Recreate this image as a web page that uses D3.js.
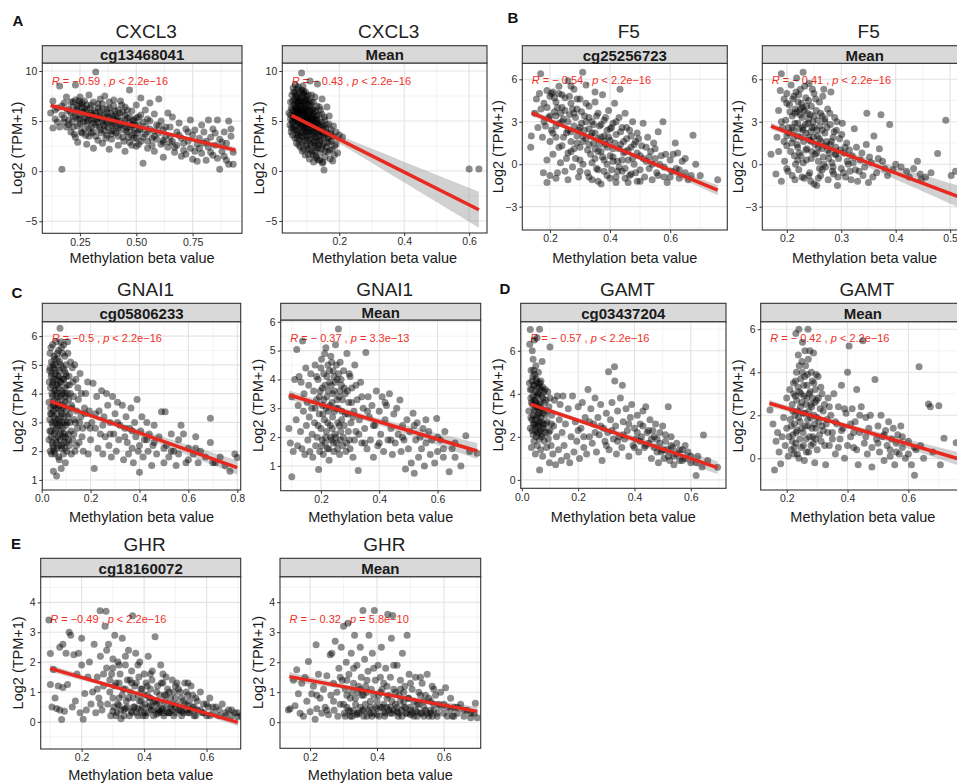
<!DOCTYPE html>
<html>
<head>
<meta charset="utf-8">
<script src="https://cdn.jsdelivr.net/npm/d3@7"></script>
<style>
  body { margin: 0; background: #fff; }
  svg { display: block; }
  text { font-family: "Liberation Sans", Arial, Helvetica, sans-serif; }
</style>
</head>
<body>
<svg id="fig" width="957" height="783"></svg>
<script>
// ---------- expression (log2 TPM+1) vs methylation beta, one array per panel ----------
const cxcl3Probe = [
[0.12,5.8],[0.13,4.3],[0.13,7.0],[0.14,5.2],[0.15,6.3],[0.16,8.5],[0.16,4.4],[0.17,0.2],[0.17,5.6],[0.18,6.8],[0.18,4.9],[0.19,7.4],[0.20,6.2],[0.20,5.1],[0.21,3.9],[0.21,6.9],[0.22,5.5],[0.22,4.4],[0.23,8.6],[0.23,7.1],[0.23,3.4],[0.24,6.0],[0.24,5.2],[0.24,2.9],[0.25,6.7],[0.25,4.7],[0.25,7.4],[0.26,3.8],[0.26,5.9],[0.26,6.4],[0.27,4.2],[0.27,7.0],[0.27,5.3],[0.28,2.7],[0.28,6.1],[0.28,4.8],[0.29,7.6],[0.29,5.6],[0.29,3.5],[0.30,6.6],[0.30,4.4],[0.30,5.1],[0.31,2.3],[0.31,6.9],[0.31,3.9],[0.32,5.8],[0.32,9.9],[0.32,4.6],[0.33,6.3],[0.33,3.1],[0.33,5.4],[0.34,7.2],[0.34,4.1],[0.34,6.0],[0.35,5.0],[0.35,2.8],[0.35,6.7],[0.36,4.5],[0.36,7.5],[0.36,5.6],[0.37,3.6],[0.37,6.2],[0.37,4.9],[0.38,2.2],[0.38,5.3],[0.38,6.9],[0.39,4.0],[0.39,5.8],[0.39,3.2],[0.40,6.5],[0.40,4.7],[0.40,7.1],[0.41,3.8],[0.41,5.5],[0.42,2.6],[0.42,6.1],[0.42,4.3],[0.43,5.0],[0.43,7.0],[0.44,3.4],[0.44,5.9],[0.45,4.5],[0.45,2.0],[0.45,6.4],[0.46,3.9],[0.46,5.3],[0.47,8.1],[0.47,4.8],[0.47,2.9],[0.48,6.0],[0.48,3.6],[0.49,5.1],[0.49,4.2],[0.50,6.6],[0.50,2.5],[0.50,3.3],[0.51,5.4],[0.51,4.6],[0.52,7.3],[0.52,3.0],[0.53,0.8],[0.53,4.9],[0.54,6.1],[0.54,3.7],[0.55,2.3],[0.55,5.2],[0.56,4.2],[0.56,6.8],[0.57,3.3],[0.58,5.7],[0.58,2.0],[0.59,4.6],[0.60,3.8],[0.60,7.2],[0.61,2.7],[0.61,5.0],[0.62,4.1],[0.62,1.4],[0.63,3.5],[0.64,5.8],[0.64,2.4],[0.65,4.4],[0.66,3.0],[0.66,5.4],[0.67,1.9],[0.68,3.9],[0.68,2.6],[0.69,4.8],[0.70,1.5],[0.70,3.3],[0.71,2.1],[0.72,4.2],[0.72,1.7],[0.73,3.0],[0.74,5.1],[0.74,2.3],[0.75,3.6],[0.75,1.2],[0.76,4.1],[0.77,2.7],[0.77,1.0],[0.78,3.3],[0.79,4.6],[0.79,1.8],[0.80,2.8],[0.80,3.9],[0.81,1.1],[0.82,5.1],[0.82,2.4],[0.83,3.4],[0.84,1.6],[0.84,4.2],[0.85,2.6],[0.86,5.1],[0.86,1.3],[0.87,0.2],[0.87,3.2],[0.88,2.0],[0.89,3.9],[0.90,1.1],[0.90,2.8],[0.91,5.0],[0.91,0.7],[0.92,4.2],[0.92,3.5],[0.93,0.7],[0.93,1.9],
[0.22,6.4],[0.25,5.6],[0.28,5.4],[0.31,5.2],[0.34,5.3],[0.37,5.4],[0.40,5.2],[0.43,4.6],[0.46,4.3],[0.49,3.8],[0.24,6.5],[0.27,6.3],[0.30,5.8],[0.33,4.8],[0.36,4.0],[0.39,4.6],[0.42,5.4],[0.45,5.6],[0.48,4.6],[0.52,4.2],[0.55,3.9],[0.58,3.5],[0.62,3.1],[0.65,2.9],
[0.20,4.6],[0.21,5.8],[0.215,4.9],[0.22,6.9],[0.225,3.7],[0.23,5.4],[0.235,6.2],[0.24,4.5],[0.245,7.0],[0.25,5.2],[0.255,3.9],[0.26,6.8],[0.265,4.9],[0.27,5.9],[0.275,3.6],[0.28,6.6],[0.285,5.0],[0.29,4.2],[0.295,6.3],[0.30,3.8],[0.305,5.6],[0.31,4.8],[0.315,6.0],[0.32,3.5],[0.325,5.2],[0.33,6.7],[0.335,4.4],[0.34,5.6],[0.345,3.8],[0.35,6.2],[0.355,4.6],[0.36,5.1],[0.365,3.3],[0.37,5.8],[0.375,4.3],[0.38,6.3],[0.385,4.9],[0.39,3.7],[0.395,5.5],[0.40,4.0],[0.405,6.0],[0.41,4.5],[0.415,5.0],[0.42,3.5],[0.425,5.8],[0.43,4.1],[0.435,6.6],[0.44,4.7],[0.445,3.0],[0.45,5.1],[0.455,4.0],[0.46,6.1],[0.465,3.4],[0.47,5.4],[0.475,4.4],[0.48,2.6],[0.485,5.0],[0.49,3.3],[0.495,4.6],[0.50,5.3],[0.505,3.8],[0.51,2.7],[0.515,4.1],[0.52,5.6],[0.53,3.4],[0.54,4.5],[0.55,3.0],[0.56,5.0],[0.57,2.6],[0.58,4.0],[0.59,3.2],[0.6,4.5],[0.62,2.9],[0.63,4.4],[0.65,3.5],[0.67,2.4],[0.69,3.6],[0.71,2.8],[0.73,3.9],[0.76,2.0],[0.78,2.3],[0.81,3.0],[0.83,1.9],[0.85,3.8],[0.88,2.9],[0.89,1.5],[0.14,6.1],[0.15,4.9],[0.17,6.5],[0.18,5.3],[0.19,4.4],[0.195,6.0]
];
const cxcl3Mean = [
[0.045,5.8],[0.048,4.6],[0.05,6.9],[0.05,5.2],[0.052,3.9],[0.054,7.6],[0.055,6.1],[0.056,4.8],[0.058,8.3],[0.058,5.5],[0.06,6.6],[0.06,4.2],[0.062,7.2],[0.062,5.0],[0.063,3.3],[0.064,6.0],[0.065,8.6],[0.065,5.7],[0.066,4.5],[0.067,7.0],[0.068,6.3],[0.068,2.8],[0.069,5.3],[0.07,7.6],[0.07,4.0],[0.071,6.8],[0.072,5.9],[0.072,3.6],[0.073,7.3],[0.074,4.9],[0.075,6.2],[0.084,9.8],[0.076,5.4],[0.077,3.1],[0.078,7.9],[0.078,6.6],[0.079,4.4],[0.08,5.7],[0.08,2.4],[0.081,7.0],[0.082,6.0],[0.082,3.8],[0.083,5.1],[0.084,8.1],[0.085,6.5],[0.085,4.6],[0.086,2.0],[0.087,7.4],[0.087,5.5],[0.088,3.4],[0.089,6.2],[0.09,4.9],[0.09,7.7],[0.091,5.9],[0.092,3.0],[0.092,6.8],[0.093,4.3],[0.094,5.3],[0.095,7.1],[0.095,1.6],[0.096,6.3],[0.097,4.0],[0.098,5.6],[0.098,2.7],[0.099,7.5],[0.1,4.7],[0.1,6.0],[0.101,3.5],[0.102,5.2],[0.103,6.7],[0.104,2.2],[0.104,4.4],[0.105,5.8],[0.106,3.9],[0.107,7.0],[0.108,1.2],[0.108,5.0],[0.109,6.4],[0.11,3.2],[0.11,9.0],[0.111,4.6],[0.112,5.7],[0.113,2.6],[0.114,6.9],[0.115,4.1],[0.116,1.9],[0.117,5.4],[0.118,3.7],[0.119,6.2],[0.12,4.8],[0.121,0.9],[0.122,2.9],[0.123,5.9],[0.124,4.3],[0.125,7.4],[0.126,3.4],[0.127,1.5],[0.128,5.1],[0.129,2.3],[0.13,4.0],[0.131,6.5],[0.132,3.0],[0.133,8.7],[0.134,4.7],[0.135,1.1],[0.136,2.6],[0.137,5.6],[0.138,3.6],[0.14,4.4],[0.141,1.8],[0.142,6.1],[0.143,3.1],[0.145,2.2],[0.146,4.9],[0.147,7.2],[0.148,0.8],[0.15,3.8],[0.152,2.7],[0.153,0.1],[0.154,5.4],[0.156,1.4],[0.158,4.3],[0.16,2.4],[0.162,6.4],[0.163,3.3],[0.165,1.9],[0.168,4.7],[0.17,2.9],[0.172,1.2],[0.175,4.1],[0.178,2.2],[0.18,3.5],[0.185,1.6],[0.19,2.7],[0.2,3.6],[0.21,3.4],[0.6,0.2],[0.63,0.2],
[0.06,5.4],[0.065,6.4],[0.07,5.0],[0.075,5.9],[0.08,6.2],[0.085,5.1],[0.09,5.7],[0.095,6.5],[0.1,5.3],[0.105,4.9],[0.11,6.0],[0.115,5.2],[0.12,5.6],[0.125,4.5],[0.13,5.2],[0.07,6.0],[0.08,4.8],[0.09,4.2],[0.1,3.9],[0.11,4.9],[0.12,3.9],[0.13,4.8],[0.14,3.9],[0.15,4.5],[0.16,3.9],[0.064,7.8],[0.074,8.4],[0.088,8.5],[0.096,7.9],[0.105,7.6],
[0.052,6.3],[0.055,5.0],[0.057,7.0],[0.059,4.4],[0.061,6.0],[0.063,5.2],[0.066,7.5],[0.067,4.1],[0.069,6.5],[0.071,5.5],[0.073,3.8],[0.074,6.9],[0.076,4.7],[0.077,7.1],[0.079,5.9],[0.081,3.5],[0.082,6.6],[0.083,4.5],[0.086,5.8],[0.087,7.8],[0.088,4.0],[0.089,6.9],[0.091,5.0],[0.093,3.6],[0.094,6.1],[0.096,4.6],[0.097,7.0],[0.099,5.4],[0.101,3.3],[0.102,6.2],[0.103,4.3],[0.106,5.5],[0.107,3.1],[0.109,4.7],[0.111,6.6],[0.112,3.9],[0.114,5.3],[0.116,2.8],[0.117,6.1],[0.119,4.4],[0.121,3.5],[0.122,5.2],[0.124,2.6],[0.126,4.8],[0.127,6.0],[0.129,3.3],[0.13,5.5],[0.132,4.2],[0.134,2.3],[0.135,5.0],[0.137,3.9],[0.139,6.4],[0.14,2.9],[0.142,4.6],[0.144,3.5],[0.146,5.7],[0.148,2.5],[0.15,4.2],[0.152,3.3],[0.155,5.1],[0.157,2.0],[0.159,3.7],[0.161,4.6],[0.164,2.8],[0.166,3.4],[0.169,5.5],[0.171,2.1],[0.173,3.8],[0.176,3.0],[0.18,1.0],[0.182,4.5],[0.186,2.5],[0.19,3.9],[0.195,1.8],[0.06,7.9],[0.07,8.2],[0.08,7.3],[0.09,8.0],[0.1,7.2],[0.115,7.6],[0.12,6.9],[0.05,5.6],[0.053,4.3],[0.056,3.6],[0.07,3.3],[0.075,2.6],[0.085,2.9],[0.09,2.2],[0.1,2.5],[0.105,1.7],[0.11,2.1],[0.12,1.6],[0.125,2.0],[0.13,1.3],[0.14,1.1],[0.15,0.9]
];
const f5Probe = [
[0.136,1.2],[0.138,2.0],[0.15,3.6],[0.155,4.6],[0.16,2.6],[0.165,5.0],[0.169,6.4],[0.17,3.9],[0.175,1.9],[0.178,-0.6],[0.18,4.3],[0.185,2.7],[0.19,-1.3],[0.19,5.2],[0.195,3.3],[0.2,4.8],[0.2,1.6],[0.205,2.4],[0.21,5.1],[0.21,0.7],[0.215,3.7],[0.22,4.4],[0.22,1.9],[0.225,-0.6],[0.23,5.0],[0.23,2.9],[0.235,0.1],[0.24,4.0],[0.24,1.3],[0.245,3.2],[0.25,4.7],[0.25,-0.5],[0.255,2.2],[0.26,5.9],[0.26,0.8],[0.265,3.5],[0.27,1.6],[0.27,4.3],[0.275,-0.2],[0.28,2.7],[0.28,5.3],[0.285,0.4],[0.29,3.9],[0.29,2.0],[0.295,-0.9],[0.3,4.6],[0.3,1.2],[0.305,2.9],[0.309,6.5],[0.31,0.0],[0.315,3.4],[0.32,1.8],[0.32,5.6],[0.325,-0.6],[0.33,2.5],[0.33,4.1],[0.335,0.7],[0.34,3.0],[0.34,-1.1],[0.345,1.5],[0.35,4.4],[0.35,2.2],[0.355,-0.3],[0.36,3.6],[0.36,0.9],[0.365,2.7],[0.37,-1.4],[0.37,1.9],[0.375,4.9],[0.38,0.3],[0.38,3.1],[0.385,1.4],[0.39,-0.8],[0.39,2.4],[0.395,3.8],[0.4,0.6],[0.4,1.7],[0.405,-0.4],[0.41,2.9],[0.41,1.1],[0.415,4.3],[0.42,-0.9],[0.42,2.1],[0.425,0.2],[0.43,3.3],[0.433,5.3],[0.435,1.4],[0.44,-0.5],[0.44,2.6],[0.445,0.8],[0.45,3.6],[0.45,-1.0],[0.455,1.8],[0.46,0.3],[0.465,2.4],[0.47,-0.7],[0.47,1.2],[0.475,3.0],[0.48,0.0],[0.485,1.6],[0.49,-1.2],[0.49,2.2],[0.5,0.6],[0.5,-0.4],[0.505,1.3],[0.51,2.9],[0.515,-0.9],[0.52,0.2],[0.525,1.9],[0.53,-0.3],[0.535,0.9],[0.54,-1.1],[0.545,1.5],[0.55,0.4],[0.555,-0.6],[0.56,2.3],[0.565,0.0],[0.576,3.0],[0.58,-0.9],[0.585,0.7],[0.59,-1.3],[0.6,0.3],[0.605,-0.5],[0.617,1.5],[0.62,-0.3],[0.625,0.8],[0.63,-1.0],[0.64,0.2],[0.65,-0.6],[0.66,-1.1],[0.676,2.05],[0.685,0.0],[0.7,-0.8],[0.758,-1.1],
[0.22,3.4],[0.24,3.0],[0.26,2.4],[0.28,3.6],[0.3,2.6],[0.32,3.0],[0.34,2.2],[0.36,1.8],[0.38,2.0],[0.4,2.5],[0.33,1.4],[0.35,0.4],[0.37,0.9],[0.39,1.2],[0.41,0.2],[0.43,-0.2],[0.45,0.9],[0.27,0.9],[0.29,1.5],[0.31,2.0],
[0.18,3.0],[0.19,4.0],[0.2,3.4],[0.205,5.0],[0.21,2.2],[0.215,4.7],[0.22,2.7],[0.225,4.0],[0.23,1.2],[0.235,3.6],[0.24,4.9],[0.245,1.9],[0.25,3.8],[0.255,0.4],[0.26,3.0],[0.265,4.8],[0.27,2.3],[0.275,3.9],[0.28,1.1],[0.285,3.3],[0.29,4.6],[0.295,2.4],[0.3,0.3],[0.305,3.7],[0.31,1.6],[0.315,2.4],[0.32,4.3],[0.325,1.0],[0.33,3.3],[0.335,2.0],[0.34,0.1],[0.345,2.8],[0.35,1.1],[0.355,3.4],[0.36,-0.4],[0.365,1.4],[0.37,2.8],[0.375,0.5],[0.38,1.6],[0.385,3.3],[0.39,0.0],[0.395,1.9],[0.4,-1.0],[0.405,2.6],[0.41,0.5],[0.415,1.5],[0.42,3.0],[0.425,-0.5],[0.43,1.1],[0.435,2.3],[0.44,0.3],[0.445,1.6],[0.45,-0.3],[0.455,2.6],[0.46,1.0],[0.465,-0.8],[0.47,2.0],[0.475,0.4],[0.48,1.4],[0.485,-0.6],[0.49,0.8],[0.495,1.8],[0.5,-1.2],[0.51,0.4],[0.52,1.2],[0.53,0.5],[0.54,0.0],[0.55,1.1],[0.56,-0.8],[0.57,0.6],[0.58,-0.2],[0.6,-0.9],[0.61,0.7],[0.63,-0.4],[0.65,0.4],[0.67,-0.8],[0.19,0.3],[0.2,-0.8],[0.22,-1.0],[0.26,-1.1],[0.3,-0.5],[0.33,-0.9],[0.36,-1.2],[0.38,-0.5],[0.42,-1.3],[0.46,-1.3],[0.23,5.5],[0.27,5.5],[0.35,5.1]
];
const f5Mean = [
[0.171,0.7],[0.18,-0.7],[0.182,1.9],[0.185,3.8],[0.188,5.2],[0.19,6.4],[0.19,-1.2],[0.192,2.6],[0.195,4.6],[0.196,0.2],[0.198,3.1],[0.2,5.0],[0.2,1.3],[0.202,-0.5],[0.204,2.2],[0.205,4.2],[0.207,0.9],[0.208,5.6],[0.21,3.4],[0.21,-0.8],[0.212,1.8],[0.213,4.8],[0.215,2.9],[0.216,0.0],[0.218,6.1],[0.219,3.7],[0.22,1.2],[0.221,4.4],[0.222,-0.4],[0.224,2.5],[0.225,5.3],[0.226,0.6],[0.228,3.3],[0.229,4.0],[0.23,6.5],[0.231,1.6],[0.232,-1.0],[0.234,2.8],[0.235,4.7],[0.236,0.3],[0.238,3.6],[0.24,1.9],[0.241,5.7],[0.242,-0.6],[0.244,2.3],[0.245,4.1],[0.246,0.9],[0.248,3.0],[0.25,-1.4],[0.25,5.0],[0.252,1.4],[0.254,3.8],[0.255,-1.5],[0.256,2.0],[0.258,0.2],[0.26,4.4],[0.261,2.7],[0.262,-0.8],[0.264,1.1],[0.265,3.4],[0.267,0.5],[0.268,5.3],[0.27,2.2],[0.271,-0.2],[0.273,1.6],[0.275,3.9],[0.276,-1.1],[0.278,0.8],[0.28,2.8],[0.281,5.1],[0.283,0.1],[0.285,1.9],[0.286,-0.7],[0.288,3.3],[0.29,1.2],[0.291,2.4],[0.293,-1.5],[0.295,0.4],[0.297,1.8],[0.3,-0.3],[0.302,2.9],[0.305,0.8],[0.308,-0.9],[0.31,1.5],[0.313,0.0],[0.316,-0.5],[0.32,0.6],[0.324,2.5],[0.326,-0.4],[0.33,-1.2],[0.335,0.3],[0.34,-0.8],[0.346,1.4],[0.347,3.6],[0.35,-1.3],[0.355,0.1],[0.36,2.0],[0.365,-0.6],[0.37,1.1],[0.373,3.5],[0.376,0.2],[0.38,-0.3],[0.389,2.8],[0.395,-0.4],[0.41,-0.2],[0.42,-0.5],[0.433,-0.3],[0.445,-0.7],[0.447,-1.1],[0.455,-0.9],[0.465,-0.6],[0.477,0.75],[0.492,3.1],[0.502,-0.8],[0.51,-0.5],
[0.2,2.0],[0.21,2.6],[0.22,2.0],[0.23,2.4],[0.24,3.2],[0.25,2.6],[0.26,1.8],[0.27,3.0],[0.28,1.4],[0.29,0.7],[0.215,3.6],[0.225,3.9],[0.235,1.0],[0.245,1.6],[0.255,0.8],[0.265,-0.4],[0.275,1.0],[0.285,-0.2],[0.24,-0.8],[0.22,0.3],
[0.19,3.0],[0.195,1.6],[0.2,4.3],[0.203,2.6],[0.206,3.7],[0.209,1.5],[0.211,4.6],[0.213,2.4],[0.214,0.6],[0.216,3.9],[0.217,5.1],[0.219,1.4],[0.22,2.9],[0.222,4.9],[0.223,0.8],[0.225,3.5],[0.226,1.9],[0.227,4.3],[0.229,2.6],[0.23,0.1],[0.232,3.8],[0.233,5.5],[0.235,2.2],[0.236,4.1],[0.237,1.1],[0.239,2.9],[0.24,4.5],[0.242,1.7],[0.243,3.5],[0.245,0.4],[0.246,2.6],[0.247,5.3],[0.249,1.9],[0.25,3.4],[0.252,0.7],[0.253,4.6],[0.255,2.4],[0.257,3.1],[0.258,1.2],[0.26,-0.3],[0.262,3.6],[0.263,1.6],[0.265,2.4],[0.266,4.8],[0.268,0.0],[0.27,3.2],[0.272,1.3],[0.274,2.6],[0.277,0.4],[0.279,3.6],[0.282,1.6],[0.284,-0.5],[0.287,2.3],[0.289,0.7],[0.292,3.0],[0.294,-0.9],[0.298,1.0],[0.301,2.1],[0.304,-0.6],[0.307,1.2],[0.311,0.2],[0.315,1.0],[0.318,-1.1],[0.322,0.1],[0.328,1.2],[0.333,-0.5],[0.338,0.8],[0.343,-0.2],[0.352,0.5],[0.358,-0.9],[0.368,0.4],[0.385,-0.8],[0.4,0.0],[0.425,-0.9],[0.44,0.2],[0.185,0.9],[0.2,-0.3],[0.215,-1.1],[0.228,-0.9],[0.244,-1.2],[0.258,-1.0]
];
const gnai1Probe = [
[0.03,3.7],[0.03,2.4],[0.032,4.8],[0.033,3.1],[0.034,5.4],[0.035,2.0],[0.036,4.2],[0.037,3.5],[0.038,2.7],[0.039,4.6],[0.04,1.9],[0.04,5.1],[0.041,3.3],[0.042,4.0],[0.043,2.3],[0.044,3.9],[0.045,5.7],[0.045,2.9],[0.046,4.4],[0.047,3.6],[0.048,1.3],[0.048,2.1],[0.049,4.9],[0.05,3.2],[0.05,5.3],[0.051,2.6],[0.052,4.1],[0.053,3.8],[0.054,1.9],[0.054,4.7],[0.055,3.0],[0.056,5.0],[0.057,2.4],[0.058,4.3],[0.059,3.5],[0.06,5.8],[0.06,2.8],[0.061,1.14],[0.061,4.5],[0.062,3.3],[0.063,2.1],[0.064,4.0],[0.065,5.2],[0.065,3.7],[0.066,2.5],[0.067,4.6],[0.068,3.1],[0.069,5.5],[0.07,2.2],[0.07,4.2],[0.071,3.6],[0.072,1.7],[0.073,4.8],[0.074,2.9],[0.075,6.27],[0.075,3.9],[0.076,2.4],[0.077,5.0],[0.078,3.4],[0.079,4.4],[0.08,1.4],[0.08,2.7],[0.081,5.6],[0.082,3.8],[0.083,2.2],[0.084,4.1],[0.085,3.0],[0.086,4.9],[0.087,2.5],[0.088,3.5],[0.089,1.9],[0.09,4.5],[0.09,5.7],[0.091,3.2],[0.092,2.6],[0.093,4.0],[0.094,5.3],[0.095,2.1],[0.096,3.7],[0.097,1.6],[0.098,4.7],[0.099,2.9],[0.1,3.4],[0.1,5.0],[0.102,2.3],[0.104,4.3],[0.105,3.0],[0.107,5.4],[0.109,2.6],[0.11,3.8],[0.112,4.6],[0.114,2.2],[0.115,3.3],[0.117,4.0],[0.12,2.7],[0.122,3.6],[0.125,4.9],[0.127,2.4],[0.13,3.9],[0.133,3.1],[0.136,2.0],[0.14,4.5],[0.143,3.4],[0.146,2.8],[0.15,3.8],[0.153,2.3],[0.157,4.7],[0.16,3.2],[0.165,2.5],[0.17,2.0],[0.175,3.5],[0.18,4.0],[0.185,2.9],[0.19,1.9],[0.195,3.4],[0.2,2.4],[0.205,3.0],[0.21,4.36],[0.215,1.4],[0.22,2.8],[0.225,3.9],[0.23,2.1],[0.235,3.4],[0.24,2.6],[0.245,4.1],[0.25,1.9],[0.255,3.2],[0.26,2.5],[0.265,4.0],[0.27,3.6],[0.275,2.2],[0.28,3.0],[0.285,1.8],[0.29,3.9],[0.295,2.6],[0.3,3.3],[0.305,2.0],[0.31,3.7],[0.315,2.4],[0.32,2.9],[0.33,3.6],[0.335,1.7],[0.34,2.5],[0.345,3.2],[0.35,2.3],[0.355,1.9],[0.36,2.8],[0.365,3.5],[0.37,2.1],[0.375,1.6],[0.38,3.0],[0.385,2.5],[0.39,3.8],[0.395,2.0],[0.4,1.27],[0.405,2.7],[0.41,3.2],[0.415,1.8],[0.42,2.4],[0.43,3.0],[0.435,2.0],[0.44,2.6],[0.45,1.5],[0.455,2.2],[0.46,2.9],[0.47,1.9],[0.48,2.5],[0.49,3.37],[0.5,1.6],[0.505,3.37],[0.51,2.2],[0.52,1.8],[0.53,2.6],[0.54,2.0],[0.55,1.5],[0.56,2.4],[0.57,2.9],[0.58,2.6],[0.59,1.6],[0.6,2.1],[0.62,1.9],[0.63,2.5],[0.64,1.6],[0.65,2.0],[0.67,1.8],[0.69,2.3],[0.69,3.14],[0.71,1.6],[0.73,1.8],[0.75,1.5],[0.77,1.3],[0.79,1.9],[0.8,1.78],
[0.031,4.4],[0.033,2.7],[0.035,4.9],[0.036,3.3],[0.038,5.6],[0.039,2.5],[0.041,4.7],[0.042,3.0],[0.044,4.3],[0.045,2.2],[0.047,5.0],[0.048,3.4],[0.05,4.5],[0.051,2.0],[0.052,3.6],[0.054,5.2],[0.055,2.7],[0.057,4.1],[0.058,3.1],[0.059,4.8],[0.061,2.3],[0.062,3.9],[0.064,5.4],[0.065,2.9],[0.066,4.3],[0.068,3.5],[0.069,1.8],[0.071,4.6],[0.072,3.0],[0.073,5.1],[0.075,2.6],[0.076,4.4],[0.078,3.2],[0.079,5.8],[0.081,2.1],[0.082,4.0],[0.084,3.3],[0.085,5.4],[0.087,2.8],[0.088,4.5],[0.09,3.6],[0.091,2.3],[0.093,4.8],[0.094,3.0],[0.096,4.2],[0.097,2.5],[0.099,3.9],[0.101,4.6],[0.103,2.0],[0.105,4.0],[0.106,5.8],[0.108,3.2],[0.11,2.4],[0.113,4.3],[0.116,3.0],[0.118,5.1],[0.121,1.9],[0.124,3.5],[0.128,4.4],[0.132,2.6],[0.135,5.0],[0.138,3.0],[0.142,2.2],[0.148,4.2],[0.155,3.0],[0.162,4.0],[0.168,2.8],[0.178,3.3],[0.188,4.4],[0.198,2.8],
[0.22,3.3],[0.25,2.9],[0.28,2.6],[0.31,3.0],[0.34,2.8],[0.37,2.7],[0.4,2.2],[0.43,2.4],[0.46,2.3],[0.5,2.1],[0.53,2.0],[0.56,1.9],[0.6,1.7],[0.63,2.1],[0.7,1.6]
];
const gnai1Mean = [
[0.09,2.3],[0.095,1.8],[0.1,0.63],[0.1,3.4],[0.105,1.5],[0.11,4.0],[0.115,2.6],[0.117,5.04],[0.12,1.7],[0.122,3.1],[0.125,4.1],[0.13,2.2],[0.132,3.9],[0.135,1.6],[0.137,5.33],[0.14,2.9],[0.142,3.5],[0.145,1.4],[0.148,4.4],[0.15,2.4],[0.153,3.2],[0.155,1.9],[0.158,3.8],[0.16,2.7],[0.162,1.5],[0.165,4.2],[0.168,3.0],[0.17,2.1],[0.172,1.3],[0.175,3.6],[0.178,2.5],[0.18,4.5],[0.182,1.7],[0.185,3.3],[0.187,2.0],[0.19,4.0],[0.192,0.88],[0.194,2.8],[0.196,1.5],[0.198,3.6],[0.2,2.3],[0.202,4.7],[0.204,1.9],[0.206,3.1],[0.208,1.4],[0.21,4.2],[0.212,2.6],[0.214,3.8],[0.215,1.8],[0.217,5.1],[0.219,2.2],[0.22,3.4],[0.222,1.6],[0.224,4.5],[0.226,2.9],[0.228,1.2],[0.23,3.9],[0.232,2.4],[0.234,4.8],[0.236,1.9],[0.238,3.2],[0.24,2.7],[0.242,4.3],[0.244,1.5],[0.246,3.6],[0.248,2.1],[0.25,5.2],[0.252,3.0],[0.254,1.8],[0.256,4.0],[0.258,2.5],[0.26,5.75],[0.262,3.4],[0.264,1.4],[0.266,4.6],[0.268,2.2],[0.27,3.8],[0.272,2.9],[0.275,1.7],[0.278,4.3],[0.28,2.4],[0.283,3.5],[0.286,1.5],[0.289,4.9],[0.292,2.8],[0.295,3.2],[0.298,1.9],[0.3,4.1],[0.303,2.5],[0.306,3.7],[0.31,1.3],[0.313,2.9],[0.316,4.5],[0.32,2.2],[0.324,3.3],[0.328,0.84],[0.332,2.6],[0.336,3.9],[0.34,1.8],[0.345,3.0],[0.35,2.3],[0.354,4.93],[0.358,1.6],[0.362,3.4],[0.366,2.7],[0.37,1.9],[0.375,3.1],[0.38,1.3],[0.385,2.4],[0.39,3.6],[0.395,1.7],[0.4,2.9],[0.405,2.1],[0.41,3.4],[0.415,1.5],[0.42,2.6],[0.425,3.1],[0.43,1.9],[0.435,3.5],[0.44,2.3],[0.445,1.4],[0.45,2.8],[0.455,1.8],[0.46,3.0],[0.465,2.1],[0.471,3.29],[0.475,1.5],[0.48,2.4],[0.485,1.9],[0.49,0.9],[0.495,2.6],[0.5,1.6],[0.505,2.2],[0.51,1.1],[0.516,2.83],[0.52,0.75],[0.525,1.9],[0.53,2.5],[0.535,1.3],[0.54,2.0],[0.545,1.6],[0.55,2.3],[0.555,1.0],[0.56,1.8],[0.57,2.2],[0.575,1.4],[0.58,1.9],[0.59,1.1],[0.597,2.65],[0.6,1.5],[0.61,1.9],[0.62,1.3],[0.625,2.2],[0.64,0.8],[0.65,1.6],[0.66,1.3],[0.68,1.0],[0.697,2.05],[0.71,1.5],[0.736,1.44],
[0.18,3.0],[0.185,4.1],[0.19,2.4],[0.195,3.4],[0.2,4.4],[0.203,1.7],[0.205,3.7],[0.207,2.8],[0.21,3.3],[0.213,4.9],[0.216,2.0],[0.218,3.0],[0.22,4.1],[0.223,2.5],[0.225,3.6],[0.227,1.6],[0.229,4.3],[0.231,3.1],[0.233,2.0],[0.235,3.8],[0.237,4.6],[0.239,2.3],[0.241,3.5],[0.243,1.8],[0.245,4.1],[0.247,2.9],[0.249,3.9],[0.251,2.0],[0.253,4.5],[0.255,3.3],[0.257,1.6],[0.259,3.0],[0.261,4.2],[0.263,2.4],[0.265,3.6],[0.267,1.9],[0.269,4.0],[0.271,2.6],[0.274,3.3],[0.277,2.0],[0.28,3.7],[0.284,2.8],[0.288,1.8],[0.291,3.6],[0.294,2.2],[0.297,4.2],[0.3,1.6],[0.305,3.2],[0.31,2.7],[0.315,1.9],[0.32,3.8],[0.33,2.1],[0.34,3.4],[0.35,1.8],[0.36,2.9],[0.38,2.4],[0.4,1.8],[0.42,3.2],[0.44,1.9],[0.48,2.0],[0.52,2.4],[0.56,2.6],[0.6,2.0],[0.62,1.6],[0.66,1.8]
];
const gamtProbe = [
[0.025,3.2],[0.027,4.5],[0.028,6.3],[0.03,6.99],[0.03,2.4],[0.032,3.8],[0.033,5.1],[0.034,1.5],[0.035,4.2],[0.036,2.8],[0.037,6.0],[0.038,3.5],[0.039,4.8],[0.04,2.1],[0.04,5.6],[0.041,3.0],[0.042,4.4],[0.043,1.8],[0.044,3.7],[0.045,6.5],[0.045,2.6],[0.046,4.9],[0.047,3.3],[0.048,1.2],[0.048,4.1],[0.049,2.3],[0.05,5.3],[0.05,3.6],[0.051,2.0],[0.052,4.6],[0.053,2.9],[0.054,6.6],[0.054,3.9],[0.055,1.6],[0.056,4.3],[0.057,2.5],[0.058,3.4],[0.059,5.0],[0.06,2.2],[0.06,4.0],[0.061,3.1],[0.062,1.9],[0.063,7.0],[0.063,0.46],[0.064,2.7],[0.065,4.5],[0.066,3.6],[0.067,1.4],[0.068,2.9],[0.069,4.2],[0.07,2.0],[0.071,3.3],[0.072,5.5],[0.073,2.4],[0.074,1.1],[0.075,3.8],[0.076,2.6],[0.078,4.1],[0.08,1.8],[0.082,3.0],[0.084,2.2],[0.086,3.7],[0.088,1.5],[0.09,2.7],[0.092,4.1],[0.094,1.9],[0.096,3.4],[0.098,0.8],[0.1,6.18],[0.1,2.3],[0.104,1.6],[0.106,3.0],[0.11,1.2],[0.113,2.5],[0.116,3.7],[0.12,0.7],[0.123,2.0],[0.126,3.9],[0.13,1.4],[0.133,2.8],[0.136,3.5],[0.14,0.9],[0.143,2.2],[0.146,3.9],[0.15,1.6],[0.155,2.6],[0.16,1.1],[0.165,3.3],[0.17,0.8],[0.175,2.0],[0.18,3.9],[0.185,1.3],[0.19,2.7],[0.195,1.8],[0.2,3.4],[0.205,1.0],[0.21,2.4],[0.215,3.6],[0.22,1.5],[0.225,2.9],[0.23,1.2],[0.235,4.2],[0.24,2.0],[0.245,3.3],[0.25,1.7],[0.255,2.6],[0.26,3.8],[0.265,1.3],[0.27,2.9],[0.275,2.1],[0.28,3.5],[0.285,0.9],[0.29,2.4],[0.295,1.8],[0.3,3.1],[0.305,2.2],[0.308,5.02],[0.31,1.4],[0.315,2.8],[0.32,3.6],[0.325,1.9],[0.329,5.26],[0.33,4.6],[0.333,2.5],[0.336,1.2],[0.34,3.2],[0.345,2.0],[0.35,3.8],[0.355,1.5],[0.357,4.4],[0.36,2.7],[0.365,1.9],[0.37,3.3],[0.375,2.3],[0.38,1.1],[0.385,2.9],[0.39,3.5],[0.395,1.6],[0.4,2.4],[0.405,1.9],[0.41,3.0],[0.415,1.3],[0.42,2.6],[0.425,2.0],[0.43,3.2],[0.435,1.5],[0.44,3.4],[0.445,2.2],[0.45,1.7],[0.455,2.8],[0.46,1.0],[0.465,2.3],[0.47,1.5],[0.475,2.6],[0.48,1.9],[0.485,0.8],[0.49,2.2],[0.495,1.3],[0.5,2.5],[0.505,1.0],[0.51,1.8],[0.515,1.4],[0.52,3.4],[0.525,0.9],[0.53,2.0],[0.535,1.5],[0.54,1.1],[0.55,1.7],[0.56,0.9],[0.57,1.4],[0.58,1.0],[0.59,1.3],[0.6,0.8],[0.619,0.2],[0.625,1.1],[0.645,2.09],[0.66,0.9],[0.695,0.59],
[0.03,4.2],[0.032,2.9],[0.034,3.6],[0.036,4.6],[0.037,2.3],[0.039,3.9],[0.041,2.6],[0.042,5.1],[0.044,3.2],[0.045,4.4],[0.047,2.8],[0.048,3.7],[0.05,2.5],[0.051,4.7],[0.053,3.4],[0.054,2.2],[0.056,4.0],[0.057,3.0],[0.059,4.5],[0.06,2.6],[0.062,3.5],[0.063,4.3],[0.065,2.3],[0.066,3.2],[0.068,4.6],[0.069,2.7],[0.071,3.9],[0.073,2.1],[0.074,4.3],[0.076,3.1],[0.078,2.4],[0.08,3.6],[0.083,4.2],[0.086,2.6],[0.09,3.2],[0.095,2.2],[0.1,3.8],[0.105,2.6],
[0.2,2.3],[0.22,2.0],[0.24,2.7],[0.26,2.2],[0.28,2.5],[0.3,1.6],[0.32,2.3],[0.34,1.8],[0.36,2.1],[0.38,2.6],[0.4,1.5],[0.41,2.2],[0.42,1.8],[0.43,2.5],[0.44,1.6],[0.45,2.3],[0.46,1.9],[0.47,2.0],[0.48,1.3],[0.49,1.7],[0.5,1.4],[0.51,2.1],[0.52,1.1],[0.53,1.6],[0.54,0.7],[0.55,1.2],[0.56,1.4],[0.57,0.9],[0.58,1.6],[0.6,1.1],[0.62,0.8],[0.64,0.6]
];
const gamtMean = [
[0.145,2.25],[0.155,1.6],[0.16,-0.54],[0.165,0.8],[0.17,1.2],[0.175,0.3],[0.18,-0.25],[0.185,1.0],[0.19,1.9],[0.195,0.6],[0.2,2.8],[0.2,1.4],[0.205,0.1],[0.208,1.0],[0.21,3.2],[0.212,1.8],[0.215,0.4],[0.218,2.5],[0.22,1.1],[0.222,3.5],[0.224,0.2],[0.226,1.6],[0.228,2.9],[0.23,0.7],[0.232,4.0],[0.234,1.3],[0.236,2.2],[0.238,4.8],[0.24,6.0],[0.24,0.0],[0.242,3.1],[0.244,1.7],[0.246,3.7],[0.248,0.5],[0.25,2.6],[0.252,5.4],[0.254,1.2],[0.256,3.4],[0.258,-0.1],[0.26,2.1],[0.262,4.3],[0.264,0.9],[0.266,2.8],[0.268,3.9],[0.27,6.0],[0.27,1.5],[0.272,0.3],[0.274,3.0],[0.276,5.0],[0.278,1.9],[0.28,0.6],[0.282,2.4],[0.284,3.6],[0.286,1.0],[0.288,4.9],[0.29,2.0],[0.292,-0.2],[0.294,3.2],[0.296,1.4],[0.298,2.7],[0.3,0.4],[0.303,3.8],[0.306,1.7],[0.31,2.3],[0.313,0.8],[0.316,3.0],[0.32,1.3],[0.324,2.5],[0.328,-0.3],[0.332,1.8],[0.336,2.8],[0.34,0.6],[0.345,2.0],[0.35,1.2],[0.355,3.0],[0.36,0.2],[0.365,1.6],[0.37,2.4],[0.375,0.9],[0.38,3.4],[0.385,1.4],[0.39,0.0],[0.395,2.1],[0.4,4.0],[0.405,5.22],[0.41,1.0],[0.415,2.3],[0.42,0.5],[0.425,1.7],[0.43,3.2],[0.435,-0.3],[0.44,1.2],[0.445,2.4],[0.45,5.47],[0.455,0.7],[0.46,1.9],[0.465,0.2],[0.47,1.4],[0.475,2.0],[0.48,-0.4],[0.49,3.67],[0.495,0.9],[0.5,1.5],[0.505,0.3],[0.51,2.0],[0.515,1.0],[0.52,-0.1],[0.525,1.3],[0.53,0.6],[0.535,1.7],[0.54,0.1],[0.545,0.9],[0.55,1.4],[0.555,-0.3],[0.56,0.7],[0.565,1.1],[0.57,0.2],[0.575,1.5],[0.58,0.5],[0.59,0.0],[0.6,0.8],[0.61,-0.3],[0.62,-0.79],[0.625,0.4],[0.635,4.26],[0.64,0.6],[0.65,0.0],[0.666,2.53],[0.672,2.4],[0.68,0.3],[0.7,2.45],[0.705,-0.3],[0.717,0.93],[0.757,0.73],
[0.215,1.5],[0.218,0.8],[0.22,2.2],[0.223,3.0],[0.225,0.5],[0.227,2.0],[0.229,3.6],[0.231,1.2],[0.233,2.7],[0.235,0.2],[0.237,3.3],[0.239,1.9],[0.241,4.3],[0.243,0.9],[0.245,2.4],[0.247,3.0],[0.249,1.4],[0.251,4.0],[0.253,2.1],[0.255,0.6],[0.257,2.9],[0.259,3.8],[0.261,1.5],[0.263,2.5],[0.265,0.3],[0.267,3.4],[0.269,1.8],[0.271,4.6],[0.273,2.2],[0.275,1.0],[0.277,3.1],[0.279,2.5],[0.281,4.0],[0.283,1.4],[0.285,2.8],[0.287,0.7],[0.289,3.5],[0.291,1.6],[0.293,2.6],[0.295,0.9],[0.297,3.9],[0.3,1.9],[0.304,2.8],[0.308,1.1],[0.312,3.3],[0.316,1.5],[0.32,2.2],[0.325,0.6],[0.33,1.6],[0.335,1.2],[0.34,2.4],[0.35,0.9],[0.36,1.7],[0.37,0.5],[0.38,1.3],[0.39,2.3],[0.4,0.6],[0.41,1.6],[0.42,1.2],[0.43,0.4],[0.44,2.0],[0.46,1.0],[0.48,0.5],[0.5,0.7],[0.52,1.1],[0.54,0.4],[0.56,0.3],[0.58,1.0],[0.6,0.2],[0.62,0.5],[0.23,5.8],[0.26,5.0],[0.25,4.5]
];
const ghrProbe = [
[0.095,3.41],[0.1,2.29],[0.1,1.25],[0.105,0.5],[0.11,1.75],[0.115,0.8],[0.12,0.45],[0.125,1.2],[0.13,2.5],[0.13,0.4],[0.136,0.08],[0.14,2.6],[0.14,1.15],[0.145,0.35],[0.15,2.3],[0.155,1.25],[0.16,3.0],[0.165,2.9],[0.17,0.5],[0.175,2.25],[0.18,0.7],[0.185,1.6],[0.19,2.3],[0.195,0.3],[0.2,2.8],[0.2,1.9],[0.205,0.09],[0.21,0.95],[0.215,0.4],[0.22,1.5],[0.225,2.0],[0.23,0.6],[0.235,1.0],[0.24,2.6],[0.245,0.3],[0.25,1.5],[0.255,0.8],[0.259,3.72],[0.26,2.2],[0.265,0.4],[0.27,1.2],[0.275,3.2],[0.278,3.7],[0.28,1.8],[0.283,0.6],[0.286,2.6],[0.29,1.0],[0.293,0.2],[0.296,1.6],[0.3,2.1],[0.303,0.5],[0.306,2.9],[0.31,1.3],[0.313,0.3],[0.316,2.0],[0.32,0.8],[0.323,1.6],[0.326,0.1],[0.33,2.8],[0.333,1.1],[0.336,0.4],[0.34,1.9],[0.343,0.7],[0.346,1.4],[0.35,2.4],[0.353,0.2],[0.356,1.0],[0.36,1.7],[0.363,3.55],[0.366,0.5],[0.37,1.2],[0.373,2.3],[0.376,0.3],[0.38,0.9],[0.383,1.5],[0.386,2.0],[0.39,0.4],[0.393,1.1],[0.396,0.2],[0.4,1.6],[0.403,0.6],[0.406,1.3],[0.41,0.3],[0.413,2.2],[0.416,0.8],[0.42,1.1],[0.423,0.4],[0.426,1.7],[0.43,0.2],[0.435,2.85],[0.44,0.6],[0.443,1.2],[0.446,0.3],[0.45,0.9],[0.453,1.9],[0.456,0.4],[0.46,1.3],[0.463,0.2],[0.466,0.7],[0.47,1.5],[0.475,0.3],[0.48,1.0],[0.485,0.5],[0.49,1.4],[0.495,0.2],[0.5,0.8],[0.505,1.3],[0.51,0.4],[0.515,1.0],[0.52,0.2],[0.525,0.7],[0.53,1.3],[0.535,0.4],[0.54,0.9],[0.545,0.3],[0.55,1.2],[0.555,0.5],[0.56,0.2],[0.565,0.8],[0.57,0.4],[0.58,1.0],[0.585,0.3],[0.59,0.6],[0.6,0.2],[0.605,0.5],[0.61,0.8],[0.62,0.3],[0.63,0.5],[0.64,0.2],[0.65,0.6],[0.66,0.3],[0.67,0.4],[0.68,0.2],[0.69,0.3],[0.7,0.17],[0.71,0.2],
[0.36,0.35],[0.38,0.45],[0.4,0.3],[0.42,0.55],[0.44,0.25],[0.46,0.45],[0.48,0.3],[0.5,0.5],[0.52,0.35],[0.54,0.55],[0.39,0.7],[0.41,0.9],[0.43,0.65],[0.45,0.35],[0.47,0.9],[0.49,0.6],[0.34,0.45],[0.32,0.55],[0.3,0.35],
[0.3,0.8],[0.305,1.2],[0.31,0.2],[0.315,0.6],[0.32,1.3],[0.325,0.4],[0.33,0.9],[0.335,0.2],[0.34,1.1],[0.345,0.5],[0.35,0.8],[0.355,1.4],[0.36,0.3],[0.365,0.8],[0.37,0.5],[0.375,1.3],[0.38,0.2],[0.385,0.7],[0.39,1.1],[0.395,0.5],[0.4,0.9],[0.405,0.2],[0.41,1.2],[0.415,0.5],[0.42,0.8],[0.425,1.4],[0.43,0.4],[0.435,0.7],[0.44,1.0],[0.445,0.4],[0.45,0.6],[0.455,1.3],[0.46,0.3],[0.465,0.9],[0.47,0.5],[0.475,1.1],[0.48,0.3],[0.485,0.8],[0.49,0.4],[0.495,1.0],[0.5,0.3],[0.505,0.6],[0.51,1.1],[0.515,0.4],[0.52,0.8],[0.525,0.3],[0.53,0.6],[0.535,1.0],[0.54,0.3],[0.545,0.7],[0.55,0.4],[0.555,0.9],[0.56,0.5],[0.565,0.2],[0.57,0.7],[0.58,0.4],[0.59,0.3],[0.6,0.6],[0.61,0.2],[0.62,0.5],[0.64,0.4],[0.66,0.2],[0.68,0.4],[0.7,0.3],
[0.25,1.1],[0.26,0.6],[0.27,1.6],[0.28,2.4],[0.29,1.4],[0.3,1.8],[0.32,1.9],[0.34,2.2],[0.36,1.3],[0.38,1.9],[0.42,1.6],[0.46,1.6],[0.5,1.2],[0.54,1.3]
];
const ghrMean = [
[0.135,0.41],[0.14,0.45],[0.15,1.4],[0.155,0.55],[0.16,1.75],[0.165,0.95],[0.17,0.3],[0.175,1.3],[0.18,0.2],[0.185,1.5],[0.19,0.7],[0.195,2.02],[0.2,0.35],[0.205,0.95],[0.21,1.2],[0.215,0.1],[0.218,2.58],[0.22,0.45],[0.225,1.6],[0.23,0.8],[0.235,0.3],[0.24,1.1],[0.245,0.5],[0.25,1.55],[0.255,0.25],[0.26,2.25],[0.262,0.9],[0.265,2.3],[0.27,1.3],[0.272,0.4],[0.275,2.7],[0.28,1.0],[0.283,0.2],[0.286,1.8],[0.29,0.6],[0.293,2.5],[0.296,1.4],[0.3,3.2],[0.302,0.3],[0.305,1.1],[0.308,2.0],[0.31,0.5],[0.313,3.3],[0.316,1.6],[0.32,0.8],[0.323,2.3],[0.326,0.2],[0.33,1.3],[0.333,2.9],[0.336,0.6],[0.34,1.9],[0.343,1.0],[0.346,0.3],[0.35,2.5],[0.353,1.5],[0.356,0.4],[0.358,3.72],[0.36,0.9],[0.363,2.1],[0.366,1.2],[0.37,0.2],[0.373,1.7],[0.376,2.9],[0.38,0.5],[0.383,1.1],[0.386,2.3],[0.39,0.3],[0.392,3.72],[0.395,1.4],[0.4,0.7],[0.403,1.9],[0.406,0.2],[0.41,1.0],[0.413,2.5],[0.416,0.5],[0.42,1.3],[0.423,0.2],[0.426,1.8],[0.43,0.8],[0.432,3.6],[0.435,0.4],[0.44,1.5],[0.443,2.8],[0.446,0.3],[0.447,3.56],[0.45,1.1],[0.455,0.6],[0.46,1.9],[0.463,0.2],[0.466,0.9],[0.47,1.4],[0.473,0.4],[0.476,2.3],[0.48,0.7],[0.483,1.2],[0.486,0.3],[0.49,2.9],[0.493,0.8],[0.496,1.6],[0.5,0.4],[0.505,1.1],[0.51,0.2],[0.515,1.5],[0.52,0.6],[0.525,1.0],[0.53,0.3],[0.535,1.3],[0.54,0.5],[0.545,0.9],[0.55,1.6],[0.555,0.2],[0.56,0.7],[0.565,1.2],[0.57,0.4],[0.575,0.9],[0.58,0.2],[0.585,0.6],[0.59,1.0],[0.6,0.3],[0.605,1.15],[0.61,0.5],[0.62,0.8],[0.625,0.2],[0.63,0.5],[0.64,0.3],[0.65,0.6],[0.66,0.2],[0.67,0.4],[0.68,0.15],[0.69,0.3],[0.694,0.63],[0.7,0.15],
[0.32,0.35],[0.34,0.25],[0.36,0.4],[0.38,0.3],[0.4,0.45],[0.42,0.35],[0.44,0.5],[0.46,0.35],[0.48,0.5],[0.5,0.25],[0.52,0.35],[0.54,0.2],[0.56,0.3],
[0.3,0.6],[0.305,0.2],[0.31,0.9],[0.315,0.4],[0.32,0.2],[0.325,1.0],[0.33,0.4],[0.335,0.8],[0.34,0.3],[0.345,1.2],[0.35,0.5],[0.355,0.9],[0.36,0.2],[0.365,0.6],[0.37,1.0],[0.375,0.4],[0.38,0.7],[0.385,0.2],[0.39,0.9],[0.395,0.5],[0.4,0.25],[0.405,0.9],[0.41,0.5],[0.415,1.1],[0.42,0.6],[0.425,0.3],[0.43,0.5],[0.435,0.9],[0.44,0.3],[0.445,0.7],[0.45,0.4],[0.455,1.0],[0.46,0.5],[0.465,0.3],[0.47,0.7],[0.475,0.2],[0.48,1.0],[0.485,0.5],[0.49,0.3],[0.495,0.8],[0.5,0.5],[0.505,0.3],[0.51,0.7],[0.515,0.4],[0.52,0.2],[0.525,0.6],[0.53,0.9],[0.535,0.3],[0.54,0.7],[0.545,0.4],[0.55,0.3],[0.555,0.8],[0.56,0.4],[0.565,0.2],[0.57,0.6],[0.58,0.3],[0.59,0.5],[0.6,0.6],[0.61,0.2],[0.62,0.4],[0.63,0.2],[0.64,0.5],[0.66,0.4],[0.68,0.3],
[0.22,0.9],[0.25,0.4],[0.27,0.7],[0.29,1.5],[0.31,1.4],[0.33,1.8],[0.35,1.1],[0.37,1.4],[0.39,1.8],[0.41,1.5],[0.43,1.2],[0.45,1.9],[0.47,1.1],[0.5,1.3],[0.53,1.5],[0.57,1.1]
];

// ---------- per-panel labels, fits and ticks (panel order: A-probe, A-mean, B..., E) ----------
const geneNames   = ["CXCL3","CXCL3","F5","F5","GNAI1","GNAI1","GAMT","GAMT","GHR","GHR"];
const stripLabels = ["cg13468041","Mean","cg25256723","Mean","cg05806233","Mean","cg03437204","Mean","cg18160072","Mean"];
const corR = ["−0.59","− 0.43","− 0.54","− 0.41","−0.5","− 0.37","− 0.57","− 0.42","−0.49","− 0.32"];
const corP = ["< 2.2e−16","< 2.2e−16","< 2.2e−16","< 2.2e−16","< 2.2e−16","= 3.3e−13","< 2.2e−16","< 2.2e−16","< 2.2e−16","= 5.8e−10"];
const corLabelY = [9.0, 9.0, 5.94, 5.94, 5.94, 5.45, 6.6, 5.61, 3.43, 3.43];
// linear fit endpoints [x0, y0, x1, y1]
const fitLines = [
  [0.12,6.55,0.94,2.1],[0.053,5.56,0.63,-3.87],[0.139,3.63,0.758,-1.84],[0.171,2.69,0.53,-2.5],
  [0.034,3.74,0.8,1.43],[0.091,3.46,0.736,1.52],[0.03,3.52,0.695,0.57],[0.143,2.56,0.8,-0.17],
  [0.099,1.79,0.7,-0.02],[0.138,1.52,0.7,0.36]
];
// confidence band: [x of narrowest point, half-width there, half-width at far end]
const bandSpec = [
  [0.45,0.12,0.3],[0.095,0.18,1.8],[0.37,0.12,0.35],[0.245,0.15,0.8],
  [0.15,0.08,0.25],[0.3,0.1,0.28],[0.18,0.1,0.3],[0.33,0.1,0.33],
  [0.4,0.05,0.12],[0.42,0.06,0.15]
];
const xTickValues = [
  [0.25,0.5,0.75],[0.2,0.4,0.6],[0.2,0.4,0.6],[0.2,0.3,0.4,0.5],
  [0,0.2,0.4,0.6,0.8],[0.2,0.4,0.6],[0,0.2,0.4,0.6],[0.2,0.4,0.6],
  [0.2,0.4,0.6],[0.2,0.4,0.6]
];
const yTickValues = [
  [-5,0,5,10],[-5,0,5,10],[-3,0,3,6],[-3,0,3,6],
  [1,2,3,4,5,6],[1,2,3,4,5,6],[0,2,4,6],[0,2,4,6],
  [0,1,2,3,4],[0,1,2,3,4]
];
const xTickFormats = [".2f",".1f",".1f",".1f",".1f",".1f",".1f",".1f",".1f",".1f"];
const panelLetters = [["A",18,20],["B",513,17],["C",17,292],["D",505,288],["E",16,543]];

// ---------- panel geometry (pixels) and axis ranges ----------
const layout = [
  {l:42.3, r:242,   st:45.7,  t:63,    b:233.3, xd:[0.083,0.969], yd:[-6.2,10.8], xt:258.3, yo:25.5},
  {l:282.3,r:487,   st:45.7,  t:63,    b:233,   xd:[0.0246,0.655], yd:[-6.2,10.8], xt:258.3, yo:23.5},
  {l:522.3,r:727.3, st:45.7,  t:63.3,  b:230,   xd:[0.108,0.79], yd:[-4.65,7.13], xt:258.3, yo:24},
  {l:762.3,r:967,   st:45.7,  t:63.3,  b:230,   xd:[0.155,0.531], yd:[-4.65,7.13], xt:258.3, yo:24},
  {l:42.3, r:240.7, st:303.3, t:321.7, b:490,   xd:[0.0025,0.814], yd:[0.65,6.5], xt:517, yo:24},
  {l:280.7,r:480.7, st:303.3, t:320,   b:490.7, xd:[0.062,0.748], yd:[0.144,6.06], xt:517, yo:22.4},
  {l:520.7,r:726,   st:303.3, t:321.7, b:488.3, xd:[-0.004,0.725], yd:[-0.39,7.35], xt:517, yo:22.4},
  {l:760.7,r:965,   st:303.3, t:321.7, b:490,   xd:[0.1145,0.786], yd:[-1.47,6.35], xt:517, yo:22.4},
  {l:40.7, r:240.7, st:558.3, t:576.7, b:749,   xd:[0.069,0.709], yd:[-0.91,4.86], xt:775, yo:22.4},
  {l:280,  r:480.7, st:558.3, t:576.7, b:748.3, xd:[0.11,0.71], yd:[-0.87,4.85], xt:775, yo:21.7}
];
const panelData = [cxcl3Probe,cxcl3Mean,f5Probe,f5Mean,gnai1Probe,gnai1Mean,gamtProbe,gamtMean,ghrProbe,ghrMean];

const svg = d3.select("#fig");
const FONT = '"Liberation Sans", Arial, Helvetica, sans-serif';
const RED = "#e8291f";

// minor grid positions: midpoints between major ticks, extended one step at each side
function minorTicks(major) {
  const step = major[1] - major[0];
  const out = [];
  for (let i = -1; i < major.length; i++) out.push(major[0] + step * (i + 0.5));
  return out;
}

layout.forEach((g, i) => {
  const x = d3.scaleLinear().domain(g.xd).range([g.l, g.r]);
  const y = d3.scaleLinear().domain(g.yd).range([g.b, g.t]);
  const p = svg.append("g");
  const clipId = "clip" + i;
  p.append("clipPath").attr("id", clipId)
    .append("rect").attr("x", g.l).attr("y", g.t).attr("width", g.r - g.l).attr("height", g.b - g.t);

  p.append("rect").attr("x", g.l).attr("y", g.t).attr("width", g.r - g.l).attr("height", g.b - g.t).attr("fill", "#fff");

  const grid = p.append("g").attr("clip-path", `url(#${clipId})`);
  const xt = xTickValues[i], yt = yTickValues[i];
  minorTicks(xt).forEach(v => grid.append("line").attr("x1", x(v)).attr("x2", x(v)).attr("y1", g.t).attr("y2", g.b)
    .attr("stroke", "#ebebeb").attr("stroke-width", 0.6));
  minorTicks(yt).forEach(v => grid.append("line").attr("y1", y(v)).attr("y2", y(v)).attr("x1", g.l).attr("x2", g.r)
    .attr("stroke", "#ebebeb").attr("stroke-width", 0.6));
  xt.forEach(v => grid.append("line").attr("x1", x(v)).attr("x2", x(v)).attr("y1", g.t).attr("y2", g.b)
    .attr("stroke", "#e3e3e3").attr("stroke-width", 1.1));
  yt.forEach(v => grid.append("line").attr("y1", y(v)).attr("y2", y(v)).attr("x1", g.l).attr("x2", g.r)
    .attr("stroke", "#e3e3e3").attr("stroke-width", 1.1));

  const plot = p.append("g").attr("clip-path", `url(#${clipId})`);

  // correlation label (sits beneath the points)
  const lab = plot.append("text").attr("x", g.l + 9.5).attr("y", y(corLabelY[i]))
    .attr("dominant-baseline", "central").attr("fill", "#f0301f")
    .attr("font-size", 11).attr("font-family", FONT);
  lab.append("tspan").attr("font-style", "italic").text("R");
  lab.append("tspan").text(" = " + corR[i] + " , ");
  lab.append("tspan").attr("font-style", "italic").text("p");
  lab.append("tspan").text(" " + corP[i]);

  // regression line with its confidence band
  const [fx0, fy0, fx1, fy1] = fitLines[i];
  const slope = (fy1 - fy0) / (fx1 - fx0);
  const [bc, bmin, bend] = bandSpec[i];
  const farDist = Math.max(Math.abs(fx1 - bc), Math.abs(fx0 - bc));
  const k = Math.sqrt(Math.max(bend * bend - bmin * bmin, 0)) / farDist;
  const half = v => Math.sqrt(bmin * bmin + k * k * (v - bc) * (v - bc));
  const xs = d3.range(0, 61).map(j => fx0 + (fx1 - fx0) * j / 60);
  plot.append("path")
    .datum(xs)
    .attr("d", d3.area()
      .x(v => x(v))
      .y0(v => y(fy0 + slope * (v - fx0) - half(v)))
      .y1(v => y(fy0 + slope * (v - fx0) + half(v))))
    .attr("fill", "#9a9a9a").attr("opacity", 0.45);

  plot.append("g").selectAll("circle").data(panelData[i]).join("circle")
    .attr("cx", d => x(d[0])).attr("cy", d => y(d[1])).attr("r", 3.5)
    .attr("fill", "#000").attr("fill-opacity", 0.45);

  plot.append("line")
    .attr("x1", x(fx0)).attr("y1", y(fy0)).attr("x2", x(fx1)).attr("y2", y(fy1))
    .attr("stroke", RED).attr("stroke-width", 3.5).attr("stroke-linecap", "butt");

  // panel border
  p.append("rect").attr("x", g.l).attr("y", g.t).attr("width", g.r - g.l).attr("height", g.b - g.t)
    .attr("fill", "none").attr("stroke", "#333").attr("stroke-width", 1.1);

  // facet strip
  p.append("rect").attr("x", g.l).attr("y", g.st).attr("width", g.r - g.l).attr("height", g.t - g.st)
    .attr("fill", "#d9d9d9").attr("stroke", "#333").attr("stroke-width", 1.1);
  p.append("text").attr("x", (g.l + g.r) / 2).attr("y", (g.st + g.t) / 2 + 0.5)
    .attr("text-anchor", "middle").attr("dominant-baseline", "central")
    .attr("font-size", 15).attr("font-weight", "bold").attr("fill", "#1a1a1a").text(stripLabels[i]);

  // axes
  const xAxis = d3.axisBottom(x).tickValues(xt).tickFormat(d3.format(xTickFormats[i])).tickSize(3).tickPadding(2);
  const yAxis = d3.axisLeft(y).tickValues(yt).tickFormat(d3.format("d")).tickSize(3).tickPadding(2);
  const gx = p.append("g").attr("transform", `translate(0,${g.b})`).call(xAxis);
  const gy = p.append("g").attr("transform", `translate(${g.l},0)`).call(yAxis);
  [gx, gy].forEach(ax => {
    ax.select(".domain").remove();
    ax.selectAll(".tick line").attr("stroke", "#333").attr("stroke-width", 1);
    ax.selectAll(".tick text").attr("fill", "#2b2b2b").attr("font-size", 10.5).attr("font-family", FONT);
  });

  // titles
  p.append("text").attr("x", (g.l + g.r) / 2 + 4).attr("y", g.st - 14)
    .attr("text-anchor", "middle").attr("dominant-baseline", "central")
    .attr("font-size", 19).attr("fill", "#222").text(geneNames[i]);
  p.append("text").attr("x", (g.l + g.r) / 2).attr("y", g.xt)
    .attr("text-anchor", "middle").attr("dominant-baseline", "central")
    .attr("font-size", 14.5).attr("fill", "#1a1a1a").text("Methylation beta value");
  p.append("text").attr("transform", `translate(${g.l - g.yo},${(g.t + g.b) / 2}) rotate(-90)`)
    .attr("text-anchor", "middle").attr("dominant-baseline", "central")
    .attr("font-size", 14.5).attr("fill", "#1a1a1a").text("Log2 (TPM+1)");
});

panelLetters.forEach(([t, px, py]) => {
  svg.append("text").attr("x", px).attr("y", py).attr("text-anchor", "middle").attr("dominant-baseline", "central")
    .attr("font-size", 15).attr("font-weight", "bold").attr("fill", "#111").text(t);
});
</script>
</body>
</html>
